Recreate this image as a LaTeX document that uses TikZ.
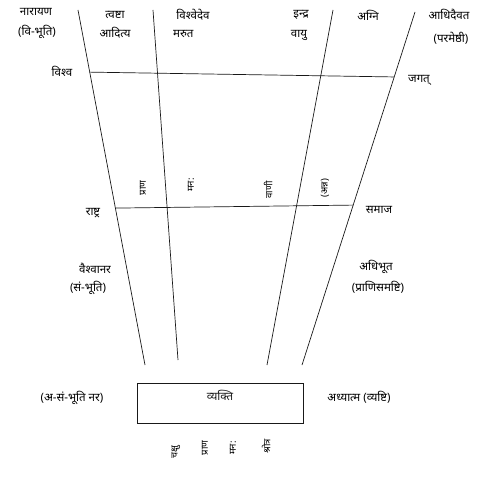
\documentclass[tikz,border=0pt]{standalone}
\usepackage{fontspec}
\setmainfont[Script=Devanagari]{Noto Sans}
\usetikzlibrary{calc}

\begin{document}
\begin{tikzpicture}[x=1pt,y=-1pt,font=\fontsize{11.5}{13}\selectfont,
  rule/.style={line width=0.7pt,black!90},
  lbl/.style={inner sep=0pt},
  side/.style={inner sep=0pt,font=\fontsize{9.5}{10}\selectfont,rotate=90}]
 \useasboundingbox (0,0) rectangle (486,476);
 % radiating lines
 \coordinate (l1t) at (78,10);  \coordinate (l1b) at (145,365);
 \coordinate (l2t) at (153,10); \coordinate (l2b) at (178,360);
 \coordinate (l3t) at (333,10); \coordinate (l3b) at (267,365);
 \coordinate (l4t) at (415,12); \coordinate (l4b) at (302,365);
 \draw[rule] (l1t)--(l1b);
 \draw[rule] (l2t)--(l2b);
 \draw[rule] (l3t)--(l3b);
 \draw[rule] (l4t)--(l4b);
 % cross levels
 \draw[rule] ($(l1t)!0.175!(l1b)$)--($(l4t)!0.184!(l4b)$);
 \draw[rule] ($(l1t)!0.558!(l1b)$)--($(l4t)!0.547!(l4b)$);
 % box
 \node[rule,draw,minimum width=166,inner sep=4pt,text height=13pt,text depth=19pt] (vyakti) at (220,403) {व्यक्ति};
 % top labels
 \node[lbl] (narayana) at (36,12) {नारायण};
 \node[lbl] (vibhuti) at (37,32) {(वि-भूति)};
 \node[lbl] (tvashta) at (115,15) {त्वष्टा};
 \node[lbl] (aditya) at (115,33) {आदित्य};
 \node[lbl] (vishvedeva) at (193,15) {विश्वेदेव};
 \node[lbl,anchor=west] (marut) at (173,34) {मरुत};
 \node[lbl] (indra) at (301,15) {इन्द्र};
 \node[lbl] (vayu) at (299,35) {वायु};
 \node[lbl] (agni) at (368,15) {अग्नि};
 \node[lbl] (adhidaivata) at (449,15) {आधिदैवत};
 \node[lbl] (parameshthi) at (451,38) {(परमेष्ठी)};
 % level labels
 \node[lbl] (vishva) at (62,71) {विश्व};
 \node[lbl] (jagat) at (419,80) {जगत्};
 \node[lbl] (rashtra) at (93,213) {राष्ट्र};
 \node[lbl] (samaja) at (379,210) {समाज};
 \node[lbl] (vaishvanara) at (95,268) {वैश्वानर};
 \node[lbl] (sambhuti) at (88,288) {(सं-भूति)};
 \node[lbl] (adhibhuta) at (376,267) {अधिभूत};
 \node[lbl] (pranisamashti) at (378,287) {(प्राणिसमष्टि)};
 \node[lbl] (asambhuti) at (72,398) {(अ-सं-भूति नर)};
 \node[lbl] (adhyatma) at (359,397) {अध्यात्म (व्यष्टि)};
 % small column marks
 \node[side] (m1) at (143,188) {प्राण};
 \node[side] (m2) at (191,185) {मन:};
 \node[side] (m3) at (268,190) {वाणी};
 \node[side] (m4) at (325,188) {(अन्न)};
 \node[side] (b1) at (176,452) {चक्षु};
 \node[side] (b2) at (205,448) {प्राण};
 \node[side] (b3) at (233,448) {मन:};
 \node[side] (b4) at (266,446) {श्रोत्र};
\end{tikzpicture}
\end{document}
